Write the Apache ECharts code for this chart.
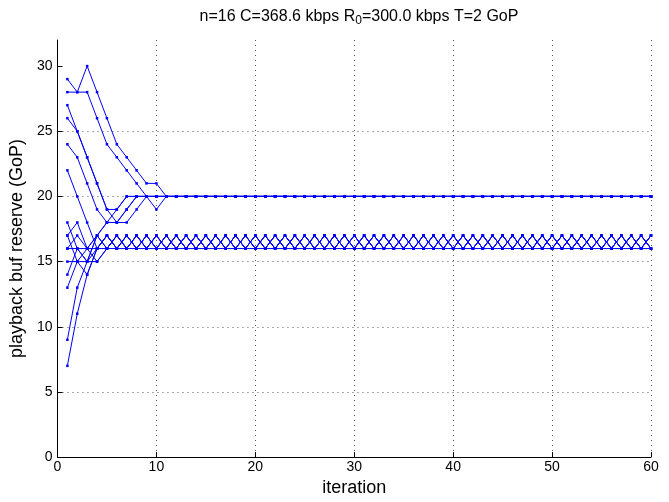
<!DOCTYPE html>
<html>
<head>
<meta charset="utf-8">
<script src="https://cdn.jsdelivr.net/npm/echarts@6/dist/echarts.min.js"></script>
<style>
html,body{margin:0;padding:0;background:#fff;}
#chart{width:669px;height:502px;}
</style>
</head>
<body>
<div id="chart"></div>
<script>
// ---- data ----
const titleText = 'n=16 C=368.6 kbps R{sub|0}=300.0 kbps T=2 GoP';
const xTicks = [0, 10, 20, 30, 40, 50, 60];
const yTicks = [0, 5, 10, 15, 20, 25, 30];

const s01 = [29,28,30,28,26,24,23,22,21,21,
  20,20,20,20,20,20,20,20,20,20, 20,20,20,20,20,20,20,20,20,20,
  20,20,20,20,20,20,20,20,20,20, 20,20,20,20,20,20,20,20,20,20,
  20,20,20,20,20,20,20,20,20,20];
const s02 = [28,28,28,26,24,23,22,21,20,19,
  20,20,20,20,20,20,20,20,20,20, 20,20,20,20,20,20,20,20,20,20,
  20,20,20,20,20,20,20,20,20,20, 20,20,20,20,20,20,20,20,20,20,
  20,20,20,20,20,20,20,20,20,20];
const s03 = [27,25,23,21,19,19,20,20,20,20,
  20,20,20,20,20,20,20,20,20,20, 20,20,20,20,20,20,20,20,20,20,
  20,20,20,20,20,20,20,20,20,20, 20,20,20,20,20,20,20,20,20,20,
  20,20,20,20,20,20,20,20,20,20];
const s04 = [26,25,23,21,19,18,18,19,20,20,
  20,20,20,20,20,20,20,20,20,20, 20,20,20,20,20,20,20,20,20,20,
  20,20,20,20,20,20,20,20,20,20, 20,20,20,20,20,20,20,20,20,20,
  20,20,20,20,20,20,20,20,20,20];
const s05 = [24,23,21,19,18,18,19,20,20,20,
  20,20,20,20,20,20,20,20,20,20, 20,20,20,20,20,20,20,20,20,20,
  20,20,20,20,20,20,20,20,20,20, 20,20,20,20,20,20,20,20,20,20,
  20,20,20,20,20,20,20,20,20,20];
const s06 = [22,20,18,16,17,16,17,16,17,16,
  17,16,17,16,17,16,17,16,17,16, 17,16,17,16,17,16,17,16,17,16,
  17,16,17,16,17,16,17,16,17,16, 17,16,17,16,17,16,17,16,17,16,
  17,16,17,16,17,16,17,16,17,16];
const s07 = [18,16,15,16,17,16,17,16,17,16,
  17,16,17,16,17,16,17,16,17,16, 17,16,17,16,17,16,17,16,17,16,
  17,16,17,16,17,16,17,16,17,16, 17,16,17,16,17,16,17,16,17,16,
  17,16,17,16,17,16,17,16,17,16];
const s08 = [17,15,16,15,16,17,16,17,16,17,
  16,17,16,17,16,17,16,17,16,17, 16,17,16,17,16,17,16,17,16,17,
  16,17,16,17,16,17,16,17,16,17, 16,17,16,17,16,17,16,17,16,17,
  16,17,16,17,16,17,16,17,16,17];
const s09 = [16,16,16,16,16,16,16,16,16,16,
  16,16,16,16,16,16,16,16,16,16, 16,16,16,16,16,16,16,16,16,16,
  16,16,16,16,16,16,16,16,16,16, 16,16,16,16,16,16,16,16,16,16,
  16,16,16,16,16,16,16,16,16,16];
const s10 = [15,15,15,15,16,17,16,17,16,17,
  16,17,16,17,16,17,16,17,16,17, 16,17,16,17,16,17,16,17,16,17,
  16,17,16,17,16,17,16,17,16,17, 16,17,16,17,16,17,16,17,16,17,
  16,17,16,17,16,17,16,17,16,17];
const s11 = [14,16,15,17,16,17,16,17,16,17,
  16,17,16,17,16,17,16,17,16,17, 16,17,16,17,16,17,16,17,16,17,
  16,17,16,17,16,17,16,17,16,17, 16,17,16,17,16,17,16,17,16,17,
  16,17,16,17,16,17,16,17,16,17];
const s12 = [13,15,14,16,17,16,17,16,17,16,
  17,16,17,16,17,16,17,16,17,16, 17,16,17,16,17,16,17,16,17,16,
  17,16,17,16,17,16,17,16,17,16, 17,16,17,16,17,16,17,16,17,16,
  17,16,17,16,17,16,17,16,17,16];
const s13 = [9,13,15,17,16,17,16,17,16,17,
  16,17,16,17,16,17,16,17,16,17, 16,17,16,17,16,17,16,17,16,17,
  16,17,16,17,16,17,16,17,16,17, 16,17,16,17,16,17,16,17,16,17,
  16,17,16,17,16,17,16,17,16,17];
const s14 = [7,11,14,16,17,16,17,16,17,16,
  17,16,17,16,17,16,17,16,17,16, 17,16,17,16,17,16,17,16,17,16,
  17,16,17,16,17,16,17,16,17,16, 17,16,17,16,17,16,17,16,17,16,
  17,16,17,16,17,16,17,16,17,16];
const s15 = [17,18,16,17,18,19,20,20,20,20,
  20,20,20,20,20,20,20,20,20,20, 20,20,20,20,20,20,20,20,20,20,
  20,20,20,20,20,20,20,20,20,20, 20,20,20,20,20,20,20,20,20,20,
  20,20,20,20,20,20,20,20,20,20];
const s16 = [16,17,16,17,18,18,19,20,20,20,
  20,20,20,20,20,20,20,20,20,20, 20,20,20,20,20,20,20,20,20,20,
  20,20,20,20,20,20,20,20,20,20, 20,20,20,20,20,20,20,20,20,20,
  20,20,20,20,20,20,20,20,20,20];

const allSeries = [s01,s02,s03,s04,s05,s06,s07,s08,s09,s10,s11,s12,s13,s14,s15,s16];

// ---- chart ----
const chart = echarts.init(document.getElementById('chart'), null, {renderer: 'canvas'});
const FONT = '"Liberation Sans", Arial, Helvetica, sans-serif';
const gridDots = {type: [1, 4], color: '#555', width: 1};

const series = allSeries.map((arr, k) => ({
  name: 'node' + (k + 1),
  type: 'line',
  data: arr.map((v, i) => [i + 1, v]),
  symbol: 'rect',
  symbolSize: 2.5,
  showSymbol: true,
  color: '#0000ff',
  itemStyle: {color: '#0000ff'},
  lineStyle: {color: '#0000ff', width: 1},
  emphasis: {disabled: true},
  animation: false,
  z: 3
}));

chart.setOption({
  backgroundColor: '#fff',
  animation: false,
  title: {
    text: titleText,
    left: 354,
    top: 1,
    textAlign: 'center',
    textStyle: {
      fontFamily: FONT, fontSize: 16, fontWeight: 'normal', color: '#000',
      rich: {sub: {fontFamily: FONT, fontSize: 12, verticalAlign: 'bottom', padding: [9, 0, 0, 0], color: '#000'}}
    }
  },
  grid: {left: 57, right: 18, top: 40, bottom: 40, containLabel: false},
  xAxis: {
    type: 'value', min: 0, max: 60, interval: 10,
    name: 'iteration', nameLocation: 'middle', nameGap: 17,
    nameTextStyle: {fontFamily: FONT, fontSize: 18, color: '#000'},
    axisLine: {show: true, onZero: false, lineStyle: {color: '#000', width: 1}},
    axisTick: {show: true, inside: true, length: 5, lineStyle: {color: '#000'}},
    axisLabel: {fontFamily: FONT, fontSize: 14, color: '#000', margin: 3,
      customValues: xTicks},
    splitLine: {show: true, lineStyle: gridDots}
  },
  yAxis: {
    type: 'value', min: 0, max: 32, interval: 5,
    name: 'playback buf reserve (GoP)', nameLocation: 'middle', nameGap: 27,
    nameTextStyle: {fontFamily: FONT, fontSize: 18, color: '#000'},
    axisLine: {show: true, onZero: false, lineStyle: {color: '#000', width: 1}},
    axisTick: {show: true, inside: true, length: 5, lineStyle: {color: '#000'}, customValues: yTicks},
    axisLabel: {fontFamily: FONT, fontSize: 14, color: '#000', margin: 5, customValues: yTicks},
    splitLine: {show: true, showMaxLine: false, lineStyle: gridDots}
  },
  series: series
});
</script>
</body>
</html>
